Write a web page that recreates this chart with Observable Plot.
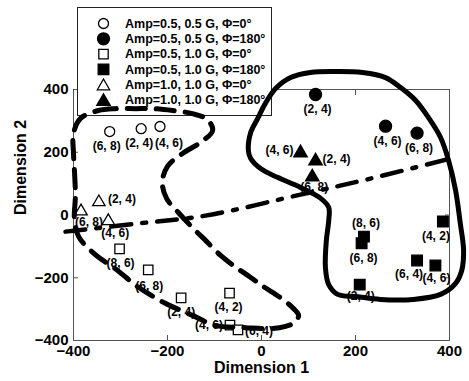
<!DOCTYPE html>
<html>
<head>
<meta charset="utf-8">
<script src="https://cdn.jsdelivr.net/npm/d3@7"></script>
<script src="https://cdn.jsdelivr.net/npm/@observablehq/plot@0.6"></script>
<style>
  html, body { margin: 0; padding: 0; background: #fff; }
  #chart svg { display: block; }
</style>
</head>
<body>
<div id="chart"></div>
<script>
// ---------- data ----------
const seriesNames = [
  "Amp=0.5, 0.5 G, \u03A6=0\u00B0",
  "Amp=0.5, 0.5 G, \u03A6=180\u00B0",
  "Amp=0.5, 1.0 G, \u03A6=0\u00B0",
  "Amp=0.5, 1.0 G, \u03A6=180\u00B0",
  "Amp=1.0, 1.0 G, \u03A6=0\u00B0",
  "Amp=1.0, 1.0 G, \u03A6=180\u00B0"
];

// series 1: open circles
const s1Labels = ["(6, 8)", "(2, 4)", "(4, 6)"];
const s1X = [-323, -256, -216];
const s1Y = [266, 275, 282];
// series 2: filled circles
const s2Labels = ["(2, 4)", "(4, 6)", "(6, 8)"];
const s2X = [115, 264, 331];
const s2Y = [384, 283, 261];
// series 3: open squares
const s3Labels = ["(8, 6)", "(6, 8)", "(2, 4)", "(4, 2)", "(4, 6)", "(6, 4)"];
const s3X = [-302, -241, -171, -68, -67, -50];
const s3Y = [-108, -175, -264, -249, -351, -366];
// series 4: filled squares
const s4Labels = ["(8, 6)", "(6, 8)", "(2, 4)", "(4, 2)", "(6, 4)", "(4, 6)"];
const s4X = [218, 213, 209, 386, 331, 370];
const s4Y = [-69, -90, -222, -21, -145, -161];
// series 5: open triangles
const s5Labels = ["(2, 4)", "(6, 8)", "(4, 6)"];
const s5X = [-346, -384, -326];
const s5Y = [41, 12, -19];
// series 6: filled triangles
const s6Labels = ["(4, 6)", "(2, 4)", "(6, 8)"];
const s6X = [83, 115, 108];
const s6Y = [198, 172, 121];

const xTicks = [-400, -200, 0, 200, 400];
const yTicks = [-400, -200, 0, 200, 400];

// hand-drawn cluster boundaries (data units)
const solidX = [-28, -23, -8, 8, 30, 62, 104, 157, 215, 264, 296, 328, 355, 381, 398, 413, 423, 430, 426, 413, 381, 323, 253, 202, 162, 143, 136, 138, 143, 143, 126, 83, 34, -2, -23];
const solidY = [206, 263, 308, 355, 403, 438, 454, 457, 454, 438, 406, 365, 311, 247, 174, 78, -27, -113, -177, -218, -253, -269, -269, -260, -253, -222, -167, -81, -18, 24, 53, 88, 120, 148, 180];

const dashX = [-385, -347, -311, -268, -230, -189, -147, -115, -104, -130, -168, -200, -211, -202, -177, -145, -117, -87, -60, -23, 4, 40, 68, 79, 70, 51, 23, -34, -98, -147, -208, -264, -311, -343, -368, -389, -398, -396, -398, -400, -400];
const dashY = [308, 333, 339, 339, 339, 333, 323, 304, 269, 231, 196, 155, 104, 53, 8, -43, -84, -129, -161, -199, -228, -263, -298, -320, -343, -355, -362, -359, -352, -320, -279, -228, -171, -139, -107, -69, -18, 62, 142, 196, 260];

const dashDotX = [-417, -262, -119, 83, 232, 402];
const dashDotY = [-53, -27, -2, 65, 116, 180];

// ---------- styling (kept apart from data) ----------
const seriesStyle = [
  {symbol: "circle",   fill: "white", r: 5.0},
  {symbol: "circle",   fill: "black", r: 6.0},
  {symbol: "square",   fill: "white", r: 5.3},
  {symbol: "square",   fill: "black", r: 6.0},
  {symbol: "triangle", fill: "white", r: 4.6},
  {symbol: "triangle", fill: "black", r: 5.0}
];
// label offsets (px) relative to each marker
const labelDx = [
  [-3, -2, 9],
  [2, 2, 2],
  [1, 1, 0, -1, -21, 21],
  [2, 2, 1, -7, -8, 1],
  [23, 8, 7],
  [-21, 21, 2]
];
const labelDy = [
  [15, 14, 17],
  [15, 15, 15],
  [14, 16, 14, 14, 0, 1],
  [-13, 15, 12, 15, 14, 13],
  [-3, 11, 12],
  [-3, -2, 10]
];

// ---------- build tables ----------
const seriesData = [
  [s1Labels, s1X, s1Y], [s2Labels, s2X, s2Y], [s3Labels, s3X, s3Y],
  [s4Labels, s4X, s4Y], [s5Labels, s5X, s5Y], [s6Labels, s6X, s6Y]
].map(([L, X, Y], si) => L.map((label, i) => ({series: seriesNames[si], label, x: X[i], y: Y[i], si, i})));

const solid = solidX.map((x, i) => ({x, y: solidY[i]}));
const dashed = dashX.map((x, i) => ({x, y: dashY[i]}));
const dashDot = dashDotX.map((x, i) => ({x, y: dashDotY[i]}));

const font = "'Liberation Sans', Arial, Helvetica, sans-serif";

const dotMarks = seriesData.map((rows, si) => Plot.dot(rows, {
  x: "x", y: "y",
  symbol: () => seriesStyle[si].symbol,
  r: seriesStyle[si].r,
  fill: seriesStyle[si].fill,
  stroke: "black",
  strokeWidth: 1.3
}));

const labelMarks = seriesData.flatMap((rows, si) => rows.map((d, i) => Plot.text([d], {
  x: "x", y: "y", text: "label",
  dx: labelDx[si][i], dy: labelDy[si][i],
  fontSize: 12, fontWeight: "bold", fill: "black"
})));

const plot = Plot.plot({
  width: 469,
  height: 381,
  marginLeft: 73,
  marginRight: 20,
  marginTop: 89,
  marginBottom: 41,
  style: {fontFamily: font, background: "#fff", overflow: "visible"},
  x: {domain: [-400, 400]},
  y: {domain: [-400, 400]},
  symbol: {type: "identity"},
  marks: [
    Plot.frame({stroke: "#555", strokeWidth: 1}),
    Plot.axisX(xTicks, {anchor: "bottom", tickSize: -5, tickPadding: 10, label: null, fontSize: 15, fontWeight: "bold", color: "#000", stroke: "#555"}),
    Plot.axisX(xTicks, {anchor: "top", tickSize: -5, tickFormat: () => "", label: null, stroke: "#555"}),
    Plot.axisY(yTicks, {anchor: "left", tickSize: -5, tickPadding: 10, label: null, fontSize: 15, fontWeight: "bold", color: "#000", stroke: "#555"}),
    Plot.axisY(yTicks, {anchor: "right", tickSize: -5, tickFormat: () => "", label: null, stroke: "#555"}),
    Plot.text(["Dimension 1"], {frameAnchor: "bottom", dy: 32, fontSize: 16, fontWeight: "bold", fill: "black"}),
    Plot.text(["Dimension 2"], {frameAnchor: "left", dx: -53, rotate: -90, fontSize: 16, fontWeight: "bold", fill: "black"}),
    ...dotMarks,
    ...labelMarks,
    Plot.line(dashed, {x: "x", y: "y", curve: "catmull-rom-closed", stroke: "black", strokeWidth: 5, strokeDasharray: "18,11"}),
    Plot.line(dashDot, {x: "x", y: "y", curve: "catmull-rom", stroke: "black", strokeWidth: 4.5, strokeDasharray: "20,11,4,11"}),
    Plot.line(solid, {x: "x", y: "y", curve: "catmull-rom-closed", stroke: "black", strokeWidth: 5})
  ]
});

document.getElementById("chart").appendChild(plot);

// ---------- legend (drawn beneath the boundary curves) ----------
const svg = d3.select(plot);
const lg = svg.insert("g", 'g[aria-label="line"]').attr("class", "legend").attr("text-anchor", "start");
lg.append("rect")
  .attr("x", 77.5).attr("y", 7.5).attr("width", 194).attr("height", 108)
  .attr("fill", "white").attr("stroke", "#222").attr("stroke-width", 1);
const symMap = {circle: d3.symbolCircle, square: d3.symbolSquare, triangle: d3.symbolTriangle};
seriesNames.forEach((name, i) => {
  const cy = 23.5 + i * 15.3;
  const st = seriesStyle[i];
  lg.append("path")
    .attr("transform", `translate(103.5,${cy + (st.symbol === "triangle" ? 1.5 : 0)})`)
    .attr("d", d3.symbol(symMap[st.symbol], Math.PI * st.r * st.r)())
    .attr("fill", st.fill).attr("stroke", "black").attr("stroke-width", 1.3);
  lg.append("text")
    .attr("x", 125).attr("y", cy).attr("dy", "0.35em")
    .attr("text-anchor", "start")
    .attr("font-family", font).attr("font-size", 12.5).attr("font-weight", "bold")
    .attr("fill", "black")
    .text(name);
});
</script>
</body>
</html>
